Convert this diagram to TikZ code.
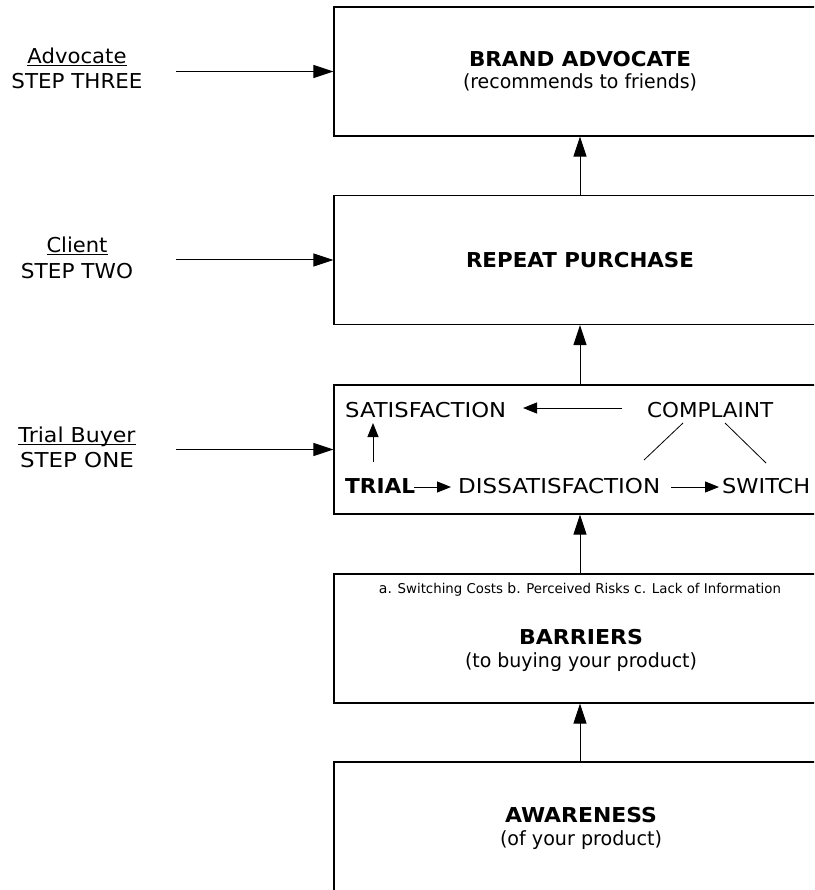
\documentclass[tikz,border=0pt]{standalone}
\usepackage{fontspec}
\setmainfont{DejaVu Sans}
\usetikzlibrary{arrows.meta}
% underline drawn a little below the baseline, through descenders
\newcommand\myul[1]{\setbox0\hbox{#1}\rlap{\rule[-2.2pt]{\wd0}{0.9pt}}\box0}
% set a text to a given width (in pt), keeping its height
\newcommand\wbox[2]{\resizebox{#1pt}{\height}{#2}}
% slightly larger list letters
\newcommand\lt[1]{{\fontsize{14.2}{16}\selectfont #1}}
\begin{document}
\begin{tikzpicture}[x=1pt,y=-1pt,
  box/.style={draw, line width=1.1pt, minimum width=492pt, minimum height=129pt, inner sep=0pt},
  big/.style={-{Triangle[length=20pt,width=13pt]}, line width=1pt},
  small/.style={-{Triangle[length=14pt,width=11pt]}, line width=1pt},
  thin/.style={line width=0.8pt},
  lbl/.style={font=\fontsize{20.5}{25}\selectfont, inner sep=0pt, anchor=base},
  ttl/.style={font=\fontsize{20.5}{23}\selectfont\bfseries, inner sep=0pt, anchor=base},
  sub/.style={font=\fontsize{19.5}{23}\selectfont, inner sep=0pt, anchor=base},
  itm/.style={font=\fontsize{20.5}{25}\selectfont, inner sep=0pt, anchor=base west},
  tiny/.style={font=\fontsize{13.5}{16}\selectfont, inner sep=0pt, anchor=base}
]
\useasboundingbox (0,0) rectangle (814,890);
\clip (0,0) rectangle (814,890);

% stage boxes (right side runs past the page edge)
\node[box] (advocate) at (580,71.5) {};
\node[box] (repeat)   at (580,260) {};
\node[box] (trialbox) at (580,449.5) {};
\node[box] (barriers) at (580,638.5) {};
\node[box] (aware)    at (580,826.5) {};

% upward flow between stages
\draw[big] (aware.north)    -- (barriers.south);
\draw[big] (barriers.north) -- (trialbox.south);
\draw[big] (trialbox.north) -- (repeat.south);
\draw[big] (repeat.north)   -- (advocate.south);

% step labels on the left
\node[lbl] (advname) at (77,64) {\myul{\wbox{99}{Advocate}}};
\node[lbl] (advstep) at (77,89) {\wbox{131}{STEP THREE}};
\node[lbl] (cliname) at (77,253) {\myul{\wbox{61}{Client}}};
\node[lbl] (clistep) at (77,278) {\wbox{112}{STEP TWO}};
\node[lbl] (triname) at (77,442.5) {\myul{\wbox{117}{Trial Buyer}}};
\node[lbl] (tristep) at (77,467.5) {\wbox{114}{STEP ONE}};

\coordinate (s3) at (176,71.5);
\coordinate (s2) at (176,260);
\coordinate (s1) at (176,449.5);
\draw[big] (s3) -- (advocate.west);
\draw[big] (s2) -- (repeat.west);
\draw[big] (s1) -- (trialbox.west);

% box texts
\node[ttl] (advt) at (580,67) {\wbox{222}{BRAND ADVOCATE}};
\node[sub] (advs) at (580,89) {\wbox{234}{(recommends to friends)}};
\node[ttl] (rept) at (580,267) {\wbox{228}{REPEAT PURCHASE}};
\node[tiny] (list) at (580,593) {\wbox{402}{\lt{a.} Switching Costs \lt{b.} Perceived Risks \lt{c.} Lack of Information}};
\node[ttl] (bart) at (581,644) {\wbox{124}{BARRIERS}};
\node[sub] (bars) at (581,667) {\wbox{232}{(to buying your product)}};
\node[ttl] (awt)  at (581,822) {\wbox{152}{AWARENESS}};
\node[sub] (aws)  at (581,845) {\wbox{162}{(of your product)}};

% trial stage detail
\node[itm] (satis)   at (345,417) {\wbox{161}{SATISFACTION}};
\node[itm] (compl)   at (647,417) {\wbox{126}{COMPLAINT}};
\node[itm, font=\fontsize{20.5}{25}\selectfont\bfseries] (trial) at (345,493) {\wbox{70}{TRIAL}};
\node[itm] (dissat)  at (458,493) {\wbox{202}{DISSATISFACTION}};
\node[itm] (switch)  at (722,493) {\wbox{88}{SWITCH}};

\coordinate (cs) at (622,408);
\coordinate (st) at (523,408);
\draw[small] (cs) -- (st);
\coordinate (tu) at (373,462);
\coordinate (tt) at (373,423);
\draw[small] (tu) -- (tt);
\coordinate (ta) at (414,487);
\coordinate (tb) at (451,487);
\draw[small] (ta) -- (tb);
\coordinate (da) at (671,487);
\coordinate (db) at (719,487);
\draw[small] (da) -- (db);

\coordinate (c1) at (683,423);
\coordinate (d1) at (644,460);
\coordinate (c2) at (725,423);
\coordinate (w2) at (766,463);
\draw[thin] (c1) -- (d1);
\draw[thin] (c2) -- (w2);
\end{tikzpicture}
\end{document}
